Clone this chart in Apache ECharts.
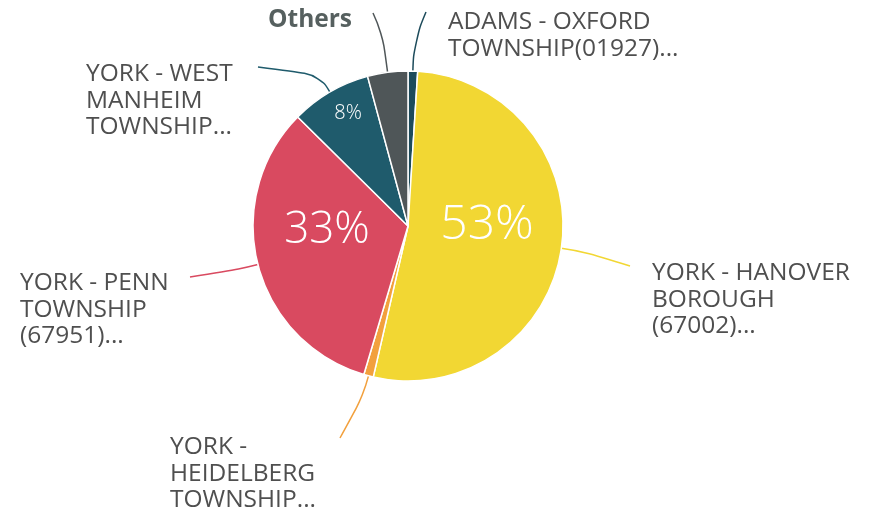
<!DOCTYPE html>
<html>
<head>
<meta charset="utf-8">
<script src="https://cdn.jsdelivr.net/npm/echarts@6/dist/echarts.min.js"></script>
<style>
html, body { margin: 0; padding: 0; background: #fff; }
#chart { width: 873px; height: 510px; }
</style>
</head>
<body>
<div id="chart"></div>
<script>
// slices, clockwise from 12 o'clock
var names = [
    'ADAMS - OXFORD\nTOWNSHIP(01927)...',
    'YORK - HANOVER\nBOROUGH\n(67002)...',
    'YORK -\nHEIDELBERG\nTOWNSHIP...',
    'YORK - PENN\nTOWNSHIP\n(67951)...',
    'YORK - WEST\nMANHEIM\nTOWNSHIP...',
    'Others'
];
var shares = [1.0, 52.6, 1.0, 32.8, 8.4, 4.2];
var colors = ['#1d4b5b', '#f2d733', '#f2a03d', '#d94a60', '#1f5b6c', '#4f5658'];

var CX = 408, CY = 226, R = 155;

// where the name labels sit and where their leader lines end
var nameSpots = [
    { x: 448, y: 9, bend: 30, end: [426, 12] },
    { x: 652, y: 260, bend: 25, end: [630, 266] },
    { x: 170, y: 434, bend: 20, end: [340, 438] },
    { x: 20, y: 270, bend: 20, end: [190, 277] },
    { x: 86, y: 61, bend: 20, end: [258, 67] },
    { x: 268, y: 7, bend: 40, end: [373, 13] }
];
// percent labels inside the big slices
var pctSpots = [null, { x: 487, y: 225, size: 48 }, null, { x: 327, y: 230, size: 44 }, { x: 348, y: 113, size: 20 }, null];

var chart = echarts.init(document.getElementById('chart'));

var nameData = names.map(function (n, i) {
    var d = { name: n, value: shares[i], itemStyle: { color: colors[i] } };
    if (n === 'Others') d.label = { fontWeight: 'bold', color: '#56605f' };
    return d;
});
var pctData = names.map(function (n, i) {
    return { name: n, value: shares[i], label: { show: pctSpots[i] != null } };
});

var option = {
    backgroundColor: '#fff',
    animation: false,
    series: [
        {
            type: 'pie',
            center: [CX, CY],
            radius: R,
            startAngle: 90,
            avoidLabelOverlap: false,
            emphasis: { disabled: true },
            itemStyle: { borderColor: '#fff', borderWidth: 1.5 },
            label: {
                position: 'outside',
                color: '#4f4f4f',
                fontFamily: 'Open Sans',
                fontSize: 24.5,
                lineHeight: 26.5,
                formatter: '{b}'
            },
            labelLine: { show: true, smooth: 0.5, lineStyle: { width: 1.5 } },
            labelLayout: function (p) {
                var s = nameSpots[p.dataIndex];
                var out = { x: s.x, y: s.y, align: 'left', verticalAlign: 'top' };
                var pts = p.labelLinePoints;
                if (pts) {
                    var a = pts[0];
                    var mid = [a[0] + (a[0] - CX) / R * s.bend, a[1] + (a[1] - CY) / R * s.bend];
                    out.labelLinePoints = [a, mid, s.end];
                }
                return out;
            },
            data: nameData
        },
        {
            type: 'pie',
            center: [CX, CY],
            radius: R,
            startAngle: 90,
            silent: true,
            z: 5,
            itemStyle: { color: 'rgba(0,0,0,0)', borderWidth: 0 },
            label: {
                position: 'inside',
                color: '#fff',
                fontFamily: 'Open Sans',
                fontWeight: 300,
                formatter: function (p) { return Math.round(p.percent) + '%'; }
            },
            labelLine: { show: false },
            labelLayout: function (p) {
                var s = pctSpots[p.dataIndex];
                if (!s) return {};
                return { x: s.x, y: s.y, fontSize: s.size, align: 'center', verticalAlign: 'middle' };
            },
            data: pctData
        }
    ]
};

chart.setOption(option);
</script>
</body>
</html>
